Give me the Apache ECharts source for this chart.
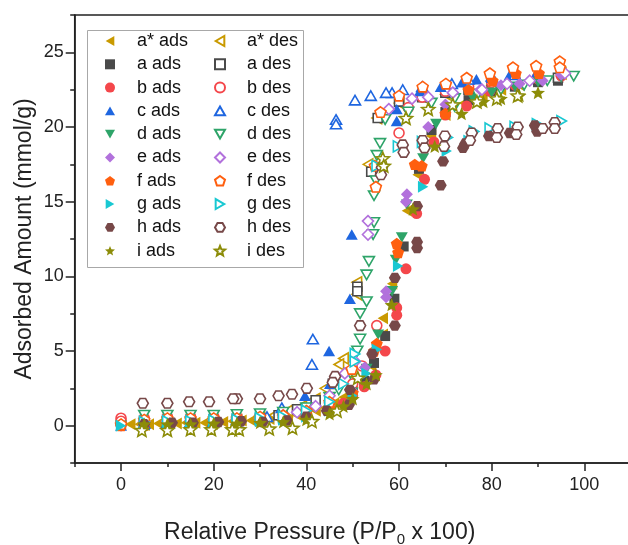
<!DOCTYPE html>
<html><head><meta charset="utf-8">
<script src="https://cdn.jsdelivr.net/npm/echarts@6/dist/echarts.min.js"></script>
<style>html,body{margin:0;padding:0;background:#fff}#c{width:628px;height:545px}</style>
</head><body><div id="c"></div>
<script>
const samples = ['a*','a','b','c','d','e','f','g','h','i'];
const xTicks = [0,20,40,60,80,100];
const xMinorTicks = [-10,10,30,50,70,90,110];
const yTicks = [0,5,10,15,20,25];
const yMinorTicks = [-2.5,2.5,7.5,12.5,17.5,22.5,27.5];

const aStarAds = [[0,0.1],[2,0.1],[4,0.1],[6,0.1],[8,0.15],[10,0.15],[12,0.15],[14,0.2],[16,0.2],[18,0.2],[20,0.25],[22,0.25],[24,0.3],[26,0.35],[28,0.35],[30,0.4],[32,0.45],[34,0.5],[36,0.6],[38,0.7],[40,0.85],[42,1.0],[44,1.2],[46,1.5],[48,1.9],[50,2.4],[52,3.0],[54,4.0],[56.5,6.1],[56.5,7.2],[58.5,9.5],[61.7,14.4],[64,16.8],[66.9,19.4],[70,20.8],[74,21.6],[78,22.1],[82,22.5],[86,22.8],[90,23.1],[94,23.3]];
const aStarDes = [[95,23.6],[90,23.3],[85,23.0],[80,22.8],[75,22.5],[70,22.2],[65,22.0],[60,21.6],[55.2,20.6],[53.3,17.5],[50.9,9.6],[50.9,8.8],[48,4.5],[47,4.1],[44,2.5],[41.9,1.8],[39,1.3],[36,1.0],[33,0.7],[30,0.5],[25,0.35],[20,0.25],[15,0.2],[10,0.15],[5,0.1]];
const aAds = [[0,0.05],[5,0.1],[10,0.1],[15,0.15],[20,0.2],[25,0.25],[30,0.3],[35,0.45],[40,0.7],[45,1.2],[50,2.2],[52.5,3.0],[54.6,4.2],[57,6.0],[59,8.5],[61,12.0],[64.3,17.2],[67,19.8],[70,21.0],[75,21.8],[80,22.4],[85,22.7],[90,23.0],[94.3,23.1]];
const aDes = [[94.3,23.3],[90,23.2],[85,23.0],[80,22.8],[75,22.5],[70,22.3],[65,22.0],[60,21.7],[55.4,20.6],[54,17.0],[51,9.3],[51,9.0],[45.7,2.8],[42,1.7],[38,1.1],[34,0.7],[30,0.5],[25,0.4],[20,0.3],[15,0.25],[10,0.2],[5,0.15]];
const bAds = [[0,0.1],[5,0.1],[10,0.15],[15,0.2],[20,0.2],[25,0.25],[30,0.3],[35,0.4],[40,0.6],[45,1.0],[48,1.5],[50,2.0],[52.5,2.6],[55,3.4],[57,5.0],[59.5,7.4],[59.5,7.9],[61.5,10.5],[63.8,14.2],[65.5,16.5],[67.5,19.0],[70,20.8],[74.6,21.4],[79.6,22.4],[85,22.8],[90,23.2],[95,23.4]];
const bDes = [[95,23.5],[90,23.4],[85,23.2],[80,23.0],[75,22.7],[70,22.4],[65,22.0],[62,21.3],[60,19.6],[55.2,6.7],[52,4.0],[50,2.8],[45,1.5],[40,0.9],[35,0.7],[30,0.6],[25,0.6],[20,0.6],[15,0.6],[10,0.6],[5,0.5],[0,0.5],[0,0.3]];
const cAds = [[0,0],[5,0.05],[10,0.1],[15,0.15],[20,0.2],[25,0.3],[30,0.45],[35,0.9],[39.7,2.0],[45.1,2.8],[44.9,5.0],[49.4,8.5],[49.8,12.8],[59.5,20.4],[59.5,21.2],[64.5,22.4],[69,22.7],[73.6,23.0],[76.7,23.2],[80,23.3],[83.9,23.5],[90,23.6]];
const cDes = [[90,23.7],[85,23.5],[80,23.4],[75,23.2],[71.4,22.9],[65,22.7],[60.8,22.5],[58.5,22.3],[57.2,22.3],[53.9,22.1],[50.5,21.8],[46.4,20.5],[46.4,20.2],[41.4,5.8],[41.2,4.1],[34.7,1.2],[31.5,0.6],[25,0.4],[20,0.3],[15,0.25],[10,0.2],[5,0.15]];
const dAds = [[0,0],[5,0.05],[10,0.1],[15,0.15],[20,0.2],[25,0.25],[30,0.3],[35,0.45],[40,0.7],[45,1.2],[50,2.2],[53,3.8],[55.5,6.1],[58.5,9.0],[59.3,11.1],[60.6,12.6],[61.7,14.8],[65.2,17.9],[68,20.2],[72,21.3],[76,21.9],[80,22.3],[85,22.7],[90,23.0],[95,23.3]];
const dDes = [[97.7,23.4],[92,23.1],[87,22.8],[82,22.5],[77,22.2],[72,21.9],[67,21.6],[62,21.0],[57,20.5],[55.9,18.9],[55.2,18.1],[55,16.4],[54.6,15.4],[54.6,13.6],[54.4,12.8],[53.5,11.0],[53,10.1],[53,8.3],[51.6,7.5],[51.6,5.8],[51,5.0],[49.5,3.5],[47,2.4],[45,1.9],[40,1.2],[35,0.9],[30,0.8],[25,0.75],[20,0.7],[15,0.7],[10,0.7],[5,0.7]];
const eAds = [[0,0],[5,0.05],[10,0.1],[15,0.15],[20,0.2],[25,0.25],[30,0.3],[35,0.4],[40,0.7],[45,1.3],[50,2.3],[52.6,3.9],[57.2,9.0],[57.2,8.6],[61.7,15.5],[61.5,15.0],[66.3,20.0],[70,21.5],[77.5,22.5],[82,22.8],[86,22.9],[91,23.1],[95,23.5]];
const eDes = [[95.8,23.6],[88.2,23.1],[83.3,22.9],[77.9,22.5],[71.6,22.3],[66.3,22.0],[62.8,21.9],[57.8,21.2],[53.3,13.7],[53.3,12.8],[50.5,4.3],[48.3,3.5],[45,2.0],[42,1.3],[38,0.9],[35,0.7],[30,0.5],[25,0.45],[20,0.4],[15,0.35],[10,0.3],[5,0.3]];
const fAds = [[0,0],[5,0.05],[10,0.1],[15,0.15],[20,0.2],[25,0.25],[30,0.35],[35,0.45],[40,0.7],[45,1.2],[50,2.2],[54.6,5.0],[55.2,5.5],[59.8,11.6],[59.5,12.2],[63.4,17.5],[64.9,17.4],[70,20.9],[75,22.5],[80.2,23.1],[85.2,23.6],[90.2,23.6]];
const fDes = [[94.7,24.4],[94.7,24.0],[89.6,24.1],[84.6,24.0],[79.6,23.6],[74.6,23.3],[70.1,22.9],[65.1,22.7],[60,22.1],[56,21.0],[54.8,17.4],[55,16.0],[49.8,3.8],[45,1.6],[40,1.0],[35,0.7],[30,0.6],[25,0.5],[20,0.5],[15,0.5],[10,0.5],[5,0.4],[0,0.1]];
const gAds = [[0,0],[5,0.05],[10,0.1],[15,0.1],[20,0.15],[25,0.2],[30,0.3],[35,0.4],[40,0.6],[45,1.0],[50,2.0],[53,3.5],[55.2,5.1],[59.8,10.7],[65.2,16.0],[70.3,18.4],[75,19.1],[80,19.5],[85,19.8],[90,20.0]];
const gDes = [[95.1,20.4],[89.8,20.2],[85,20.0],[79.6,19.9],[76.2,19.7],[70.5,19.3],[65,19.0],[59.8,18.7],[55.2,17.4],[50.5,4.8],[50.5,4.3],[48,2.8],[45,1.6],[40,1.0],[35,0.6],[30,0.5],[25,0.4],[20,0.35],[15,0.3],[10,0.3],[5,0.25]];
const hAds = [[5,0.1],[11,0.2],[15.5,0.2],[21,0.25],[25.9,0.3],[30.6,0.25],[35.8,0.35],[40,0.6],[44.4,1.0],[49.2,1.4],[49.4,2.4],[54.2,4.8],[54.6,3.1],[59.1,6.7],[59.1,9.9],[63.9,11.9],[63.9,12.3],[63.9,14.7],[69,16.1],[69.5,17.7],[73.8,18.6],[74.3,18.9],[79.4,19.4],[83.9,19.6],[89.3,20.1],[89.8,19.7]];
const hDes = [[93.6,20.3],[93.6,19.9],[91,19.9],[85.6,20.0],[85.3,19.5],[81.3,19.9],[81.1,19.3],[75.7,19.6],[75.3,19.1],[69.9,19.4],[69.7,18.7],[65.1,19.1],[65.5,18.6],[60.8,18.8],[61,18.3],[56.3,17.3],[56.1,16.8],[51.6,6.7],[46.2,3.3],[45.7,2.9],[40.1,2.5],[36.9,2.1],[34,2.0],[30,1.8],[25,1.8],[24.2,1.8],[19,1.6],[14.7,1.6],[10,1.5],[4.7,1.5]];
const iAds = [[5,0.1],[10,0.1],[15,0.1],[20,0.15],[25,0.15],[30,0.2],[35,0.25],[40,0.4],[45,0.8],[48,1.3],[50,1.8],[53,2.8],[55,3.4],[58.4,8.1],[63,14.5],[67.7,18.7],[73.5,20.9],[78.2,21.7],[82,21.9],[86,22.1],[90,22.3]];
const iDes = [[85.6,22.1],[81.1,21.9],[76.8,21.7],[71.6,21.5],[66.3,21.2],[61.5,20.6],[56.5,17.9],[56.7,17.4],[51.1,3.2],[46.6,1.0],[41.2,0.3],[37,-0.15],[32,-0.2],[25.5,-0.25],[24,-0.25],[19.5,-0.25],[15,-0.25],[10,-0.3],[4.5,-0.3]];

const adsData = [aStarAds,aAds,bAds,cAds,dAds,eAds,fAds,gAds,hAds,iAds];
const desData = [aStarDes,aDes,bDes,cDes,dDes,eDes,fDes,gDes,hDes,iDes];

const colors = ['#C99A00','#4A4A4A','#F4474B','#1E66E0','#2EA469','#B271DC','#FF5F0F','#19C8D2','#774848','#8C8C08'];
const LEFT = 'path://M0,50 L86.6,0 L86.6,100 Z';
const RIGHT = 'path://M86.6,50 L0,0 L0,100 Z';
const UP = 'path://M50,0 L100,86.6 L0,86.6 Z';
const DOWN = 'path://M0,0 L100,0 L50,86.6 Z';
const PENT = 'path://M50,0 L97.55,34.55 L79.39,90.45 L20.61,90.45 L2.45,34.55 Z';
const HEX = 'path://M0,50 L25,6.7 L75,6.7 L100,50 L75,93.3 L25,93.3 Z';
const STAR = 'path://M50,0 L62.93,32.2 L97.55,34.55 L70.92,56.8 L79.39,90.45 L50,72 L20.61,90.45 L29.08,56.8 L2.45,34.55 L37.07,32.2 Z';
const symbols = [LEFT,'rect','circle',UP,DOWN,'diamond',PENT,RIGHT,HEX,STAR];
const sizes = [12,10,11,12,12,12,12,12,12,14];

const FONT = '"Liberation Sans", Arial, sans-serif';
const series = [];
samples.forEach((s, i) => {
  series.push({
    name: s + ' ads', type: 'scatter', data: adsData[i],
    symbol: symbols[i], symbolSize: sizes[i], symbolKeepAspect: true,
    itemStyle: { color: colors[i], opacity: 1 }
  });
  series.push({
    name: s + ' des', type: 'scatter', data: desData[i],
    symbol: symbols[i], symbolSize: sizes[i] - 1, symbolKeepAspect: true,
    itemStyle: { color: '#fff', borderColor: colors[i], borderWidth: 1.6, opacity: 1 }
  });
});

const legendBase = {
  orient: 'vertical', top: 32, itemWidth: 10, itemHeight: 10, itemGap: 5.3, padding: 0,
  selectedMode: false, symbolKeepAspect: true, align: 'left',
  textStyle: { fontSize: 18, fontFamily: FONT, color: '#111', padding: [0, 0, 0, 17] }
};

const chart = echarts.init(document.getElementById('c'), null, { renderer: 'canvas' });
chart.setOption({
  animation: false,
  backgroundColor: '#fff',
  grid: { left: 74.7, top: 15, width: 556, height: 448, outerBoundsMode: 'none', containLabel: false,
    show: true, borderColor: '#222', borderWidth: 1.5, backgroundColor: 'transparent' },
  graphic: [{ type: 'rect', shape: { x: 87.5, y: 30.5, width: 216, height: 237 }, style: { fill: null, stroke: '#a8a8a8', lineWidth: 1 }, z: 1 }],
  legend: [
    Object.assign({}, legendBase, { left: 105, data: samples.map(s => s + ' ads') }),
    Object.assign({}, legendBase, { left: 214, data: samples.map(s => s + ' des') })
  ],
  xAxis: [{
    type: 'value', min: -10, max: 110, position: 'bottom',
    name: 'Relative Pressure (P/P{sub|0} x 100)', nameLocation: 'middle', nameGap: 55, nameMoveOverlap: false,
    nameTextStyle: { fontSize: 23, fontFamily: FONT, color: '#222', padding: [0, 66, 0, 0],
      rich: { sub: { fontSize: 15, fontFamily: FONT, color: '#222', padding: [14, 0, 0, 0] } } },
    axisLine: { onZero: false, lineStyle: { color: '#222', width: 1.6 } },
    axisTick: { customValues: xTicks, length: 8, lineStyle: { color: '#222', width: 1.5 } },
    axisLabel: { customValues: xTicks, fontSize: 18, fontFamily: FONT, color: '#222', margin: 13 },
    splitLine: { show: false }
  }, {
    type: 'value', min: -10, max: 110, position: 'bottom', offset: 0,
    axisLine: { show: false, onZero: false }, axisLabel: { show: false }, splitLine: { show: false },
    axisTick: { customValues: xMinorTicks, length: 4, lineStyle: { color: '#222', width: 1.5 } }
  }],
  yAxis: [{
    type: 'value', min: -2.5, max: 27.5, position: 'left',
    name: 'Adsorbed Amount (mmol/g)', nameLocation: 'middle', nameGap: 39, nameMoveOverlap: false,
    nameTextStyle: { fontSize: 23, fontFamily: FONT, color: '#222' },
    axisLine: { onZero: false, lineStyle: { color: '#222', width: 1.6 } },
    axisTick: { customValues: yTicks, length: 9, lineStyle: { color: '#222', width: 1.5 } },
    axisLabel: { customValues: yTicks, fontSize: 18, fontFamily: FONT, color: '#222', margin: 11 },
    splitLine: { show: false }
  }, {
    type: 'value', min: -2.5, max: 27.5, position: 'left', offset: 0,
    axisLine: { show: false, onZero: false }, axisLabel: { show: false }, splitLine: { show: false },
    axisTick: { customValues: yMinorTicks, length: 4.5, lineStyle: { color: '#222', width: 1.5 } }
  }],
  series: series
});
</script></body></html>
